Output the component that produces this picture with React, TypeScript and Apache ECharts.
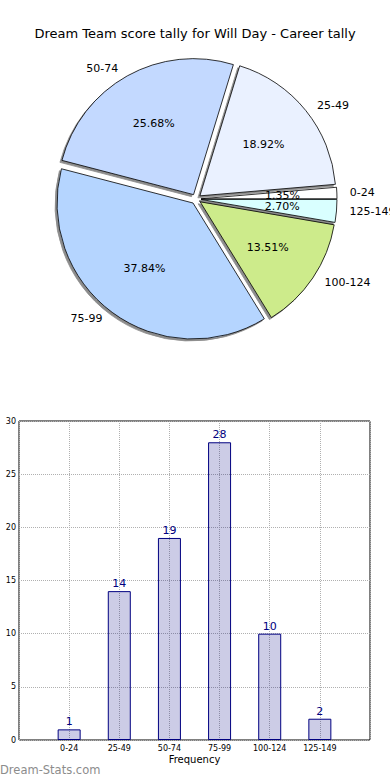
import React, { useEffect, useRef } from 'react';
import * as echarts from 'echarts';

const titleText = 'Dream Team score tally for Will Day - Career tally';
const categories = ['0-24', '25-49', '50-74', '75-99', '100-124', '125-149'];
const tally = [1, 14, 19, 28, 10, 2];
const sliceColors = ['#ffffff', '#eaf1ff', '#c3d9ff', '#b5d5ff', '#cdeb8b', '#d9ffff'];
const yTickMax = 30;
const yTickStep = 5;
const xAxisName = 'Frequency';
const yAxisName = 'Stat Tally';
const watermark = 'Dream-Stats.com';

const FONT = 'DejaVu Sans';

export default function App() {
  const ref = useRef<HTMLDivElement>(null);
  useEffect(() => {
    if (!ref.current) return;
    const chart = echarts.init(ref.current, undefined, { renderer: 'svg' });
    const total = tally.reduce((a, b) => a + b, 0);
    const R = 136;
    const center = [196, 199];
    const pieData = categories.map((c, i) => ({
      name: c,
      value: tally[i],
      selected: true,
      itemStyle: { color: sliceColors[i] },
    }));
    const pctData = categories.map((c, i) => ({
      name: c,
      value: tally[i],
      selected: true,
    }));
    // padded category list so that the axis extends one full slot on each side
    const xCats = ['', ...categories, ''];
    const barData = [null, ...tally, null];
    chart.setOption({
      animation: false,
      textStyle: { fontFamily: FONT },
      title: {
        text: titleText,
        left: 'center',
        top: 22,
        textStyle: { fontFamily: FONT, fontSize: 13, fontWeight: 'normal', color: '#000' },
      },
      grid: {
        left: 19,
        right: 20,
        top: 421,
        bottom: 40,
        show: true,
        borderColor: '#000',
        borderWidth: 1,
        backgroundColor: 'transparent',
        containLabel: false,
        outerBoundsMode: 'none',
      },
      xAxis: {
        type: 'category',
        data: xCats,
        boundaryGap: false,
        axisLine: { show: false },
        axisTick: { show: false },
        splitLine: { show: true, interval: 0, lineStyle: { type: 'dotted', color: '#b0b0b0', width: 1 } },
        axisLabel: {
          fontSize: 8,
          color: '#000',
          margin: 4,
          interval: 0,
          fontFamily: FONT,
        },
        name: xAxisName,
        nameLocation: 'middle',
        nameGap: 14,
        nameMoveOverlap: false,
        nameTextStyle: { fontSize: 10, color: '#000', fontFamily: FONT },
      },
      yAxis: {
        type: 'value',
        min: 0,
        max: yTickMax,
        interval: yTickStep,
        axisLine: { show: false },
        axisTick: { show: false },
        splitLine: { show: true, lineStyle: { type: 'dotted', color: '#b0b0b0', width: 1 } },
        axisLabel: { fontSize: 8, color: '#000', margin: 3, fontFamily: FONT },
        name: yAxisName,
        nameLocation: 'middle',
        nameGap: 20,
        nameRotate: 90,
        nameMoveOverlap: false,
        nameTextStyle: { fontSize: 10, color: '#000', fontFamily: FONT },
      },
      graphic: [
        {
          type: 'text',
          left: 0,
          top: 764,
          style: {
            text: watermark,
            fontSize: 11.5,
            fontWeight: 'normal',
            fill: '#8c8c8c',
            fontFamily: FONT,
          },
        },
      ],
      series: [
        {
          type: 'pie',
          center,
          radius: R,
          clockwise: false,
          startAngle: 0,
          selectedMode: 'multiple',
          selectedOffset: 5,
          avoidLabelOverlap: false,
          data: pieData,
          itemStyle: {
            borderColor: '#000',
            borderWidth: 0.8,
            shadowColor: 'rgba(0,0,0,0.45)',
            shadowOffsetX: -2,
            shadowOffsetY: 2,
            shadowBlur: 1,
          },
          select: { itemStyle: { borderColor: '#000', borderWidth: 0.8 } },
          emphasis: { disabled: true },
          label: {
            show: true,
            position: 'outside',
            formatter: '{b}',
            fontSize: 11,
            color: '#000',
            fontFamily: FONT,
            overflow: 'none',
          },
          labelLine: { show: false, length: 8, length2: 0 },
          labelLayout: { hideOverlap: false },
          z: 2,
        },
        {
          type: 'pie',
          center,
          radius: [R * 0.2 - 6, R],
          clockwise: false,
          startAngle: 0,
          selectedMode: 'multiple',
          selectedOffset: 5,
          silent: true,
          avoidLabelOverlap: false,
          minShowLabelAngle: 0,
          data: pctData,
          itemStyle: { color: 'rgba(0,0,0,0)', borderWidth: 0 },
          select: { itemStyle: { color: 'rgba(0,0,0,0)', borderWidth: 0 } },
          emphasis: { disabled: true },
          label: {
            show: true,
            position: 'inside',
            fontSize: 11,
            color: '#000',
            fontFamily: FONT,
            overflow: 'none',
            formatter: (p: any) => ((p.value / total) * 100).toFixed(2) + '%',
          },
          labelLine: { show: false },
          labelLayout: { hideOverlap: false },
          z: 3,
        },
        {
          type: 'bar',
          data: barData,
          barWidth: 23,
          itemStyle: {
            color: 'rgba(0,0,128,0.2)',
            borderColor: '#000080',
            borderWidth: 1,
          },
          label: {
            show: true,
            position: 'top',
            distance: 2,
            fontSize: 11,
            color: '#000080',
            fontFamily: FONT,
          },
          emphasis: { disabled: true },
        },
      ],
    });
    return () => chart.dispose();
  }, []);
  return (
    <div
      ref={ref}
      style={{ position: 'fixed', left: 0, top: 0, width: 390, height: 780, background: '#fff' }}
    />
  );
}
